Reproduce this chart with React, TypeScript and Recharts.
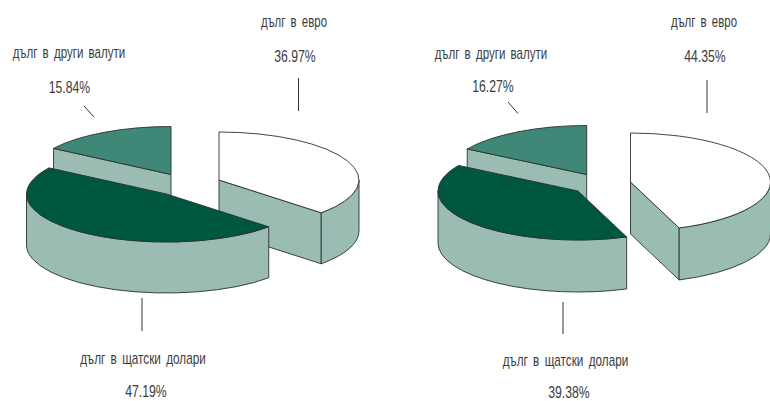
import React from 'react';
import { PieChart, Pie, Cell } from 'recharts';

const OTHER = 'дълг в други валути';
const EURO = 'дълг в евро';
const DOLLARS = 'дълг в щатски долари';

// Slices are listed back to front so the front wedge paints last
const currencies = [OTHER, EURO, DOLLARS];
const leftValues = [15.84, 36.97, 47.19];
const rightValues = [16.27, 44.35, 39.38];

const sliceColors = ['#3f8877', '#ffffff', '#00573f'];
const wallColor = '#9abcb3';
const edgeColor = '#2a3230';
const textColor = '#3c3c3c';

type Pt = [number, number];

// Where each wedge is pulled out to, relative to the pie centre
const leftExplode: Record<string, Pt> = {
    [OTHER]: [-19, -10.5],
    [EURO]: [29, -5],
    [DOLLARS]: [-23.5, 9],
};
const rightExplode: Record<string, Pt> = {
    [OTHER]: [-13.3, -7.5],
    [EURO]: [30.5, 0],
    [DOLLARS]: [-22, 9],
};

interface Callout {
    nameAt: Pt;
    valueAt: Pt;
    tick: [Pt, Pt];
}

const leftCallouts: Record<string, Callout> = {
    [OTHER]: { nameAt: [69, 58], valueAt: [69.5, 92.5], tick: [[84, 106], [94, 117]] },
    [EURO]: { nameAt: [294, 27], valueAt: [295, 61.5], tick: [[298.5, 78], [298.5, 111]] },
    [DOLLARS]: { nameAt: [143, 364], valueAt: [146, 397], tick: [[142, 298], [142, 331]] },
};
const rightCallouts: Record<string, Callout> = {
    [OTHER]: { nameAt: [491, 59], valueAt: [493, 92], tick: [[508, 102], [518, 113.5]] },
    [EURO]: { nameAt: [704, 27], valueAt: [705, 61.5], tick: [[707, 80], [707, 113]] },
    [DOLLARS]: { nameAt: [565.5, 366], valueAt: [569, 398], tick: [[563, 302], [563, 334]] },
};

const nameWidths: Record<string, number> = { [OTHER]: 112.5, [EURO]: 66, [DOLLARS]: 125.5 };
const valueWidth = 41.5;
const fontFamily = '"Liberation Sans Narrow", "Liberation Sans", sans-serif';

const rad = (deg: number) => (deg * Math.PI) / 180;

// Draws one wedge as a flattened slab: cut face, rim, then the top
const slabShape = (explode: Record<string, Pt>, ryRatio: number, depth: number) => (props: any) => {
    const { cx, cy, outerRadius, startAngle, endAngle, fill } = props;
    const name = props.name ?? props.payload?.name;
    const [dx, dy] = explode[name];
    const x0 = cx + dx;
    const y0 = cy + dy;
    const rx = outerRadius;
    const ry = outerRadius * ryRatio;
    const at = (deg: number): Pt => [x0 + rx * Math.cos(rad(deg)), y0 - ry * Math.sin(rad(deg))];

    const p1 = at(startAngle);
    const p2 = at(endAngle);
    const large = startAngle - endAngle > 180 ? 1 : 0;
    const top = `M${x0},${y0} L${p1[0]},${p1[1]} A${rx},${ry} 0 ${large} 1 ${p2[0]},${p2[1]} Z`;

    const walls: string[] = [];
    const cutFace = (p: Pt) =>
        `M${x0},${y0} L${p[0]},${p[1]} L${p[0]},${p[1] + depth} L${x0},${y0 + depth} Z`;
    if (Math.cos(rad(startAngle)) < -1e-6) walls.push(cutFace(p1));
    if (Math.cos(rad(endAngle)) > 1e-6) walls.push(cutFace(p2));

    // Rim only shows on the front half of the ellipse
    const rimFrom = Math.min(startAngle, 0);
    const rimTo = Math.max(endAngle, -180);
    if (rimFrom > rimTo) {
        const a = at(rimFrom);
        const b = at(rimTo);
        walls.push(
            `M${a[0]},${a[1]} A${rx},${ry} 0 0 1 ${b[0]},${b[1]} L${b[0]},${b[1] + depth} ` +
                `A${rx},${ry} 0 0 0 ${a[0]},${a[1] + depth} Z`
        );
    }

    return (
        <g>
            {walls.map((d) => (
                <path key={d} d={d} fill={wallColor} stroke={edgeColor} strokeWidth={0.9} strokeLinejoin="round" />
            ))}
            <path d={top} fill={fill} stroke={edgeColor} strokeWidth={0.9} strokeLinejoin="round" />
        </g>
    );
};

const calloutLabel = (callouts: Record<string, Callout>) => (props: any) => {
    const { name, value } = props;
    const c = callouts[name];
    const textProps = { fill: textColor, fontFamily, fontSize: 17, textAnchor: 'middle' as const, lengthAdjust: 'spacingAndGlyphs' };
    return (
        <g>
            <text {...textProps} x={c.nameAt[0]} y={c.nameAt[1]} textLength={nameWidths[name]} wordSpacing={3}>
                {name}
            </text>
            <text {...textProps} x={c.valueAt[0]} y={c.valueAt[1]} textLength={valueWidth}>
                {`${value.toFixed(2)}%`}
            </text>
            <line
                x1={c.tick[0][0]}
                y1={c.tick[0][1]}
                x2={c.tick[1][0]}
                y2={c.tick[1][1]}
                stroke="#333333"
                strokeWidth={1}
            />
        </g>
    );
};

const toRows = (values: number[]) => currencies.map((name, i) => ({ name, value: values[i] }));

export default function App() {
    const leftStart = 90 + leftValues[0] * 3.6;
    const rightStart = 90 + rightValues[0] * 3.6;
    return (
        <div style={{ position: 'absolute', left: 0, top: 0, width: 770, height: 401, overflow: 'hidden', background: '#fff' }}>
            <PieChart width={770} height={401} margin={{ top: 0, right: 0, bottom: 0, left: 0 }}>
                <Pie
                    data={toRows(leftValues)}
                    dataKey="value"
                    nameKey="name"
                    cx={190}
                    cy={185}
                    outerRadius={140}
                    startAngle={leftStart}
                    endAngle={leftStart - 360}
                    shape={slabShape(leftExplode, 48 / 140, 51)}
                    label={calloutLabel(leftCallouts)}
                    labelLine={false}
                    isAnimationActive={false}
                >
                    {currencies.map((name, i) => (
                        <Cell key={name} fill={sliceColors[i]} />
                    ))}
                </Pie>
                <Pie
                    data={toRows(rightValues)}
                    dataKey="value"
                    nameKey="name"
                    cx={600}
                    cy={182}
                    outerRadius={140}
                    startAngle={rightStart}
                    endAngle={rightStart - 360}
                    shape={slabShape(rightExplode, 49 / 140, 52)}
                    label={calloutLabel(rightCallouts)}
                    labelLine={false}
                    isAnimationActive={false}
                >
                    {currencies.map((name, i) => (
                        <Cell key={name} fill={sliceColors[i]} />
                    ))}
                </Pie>
            </PieChart>
        </div>
    );
}
